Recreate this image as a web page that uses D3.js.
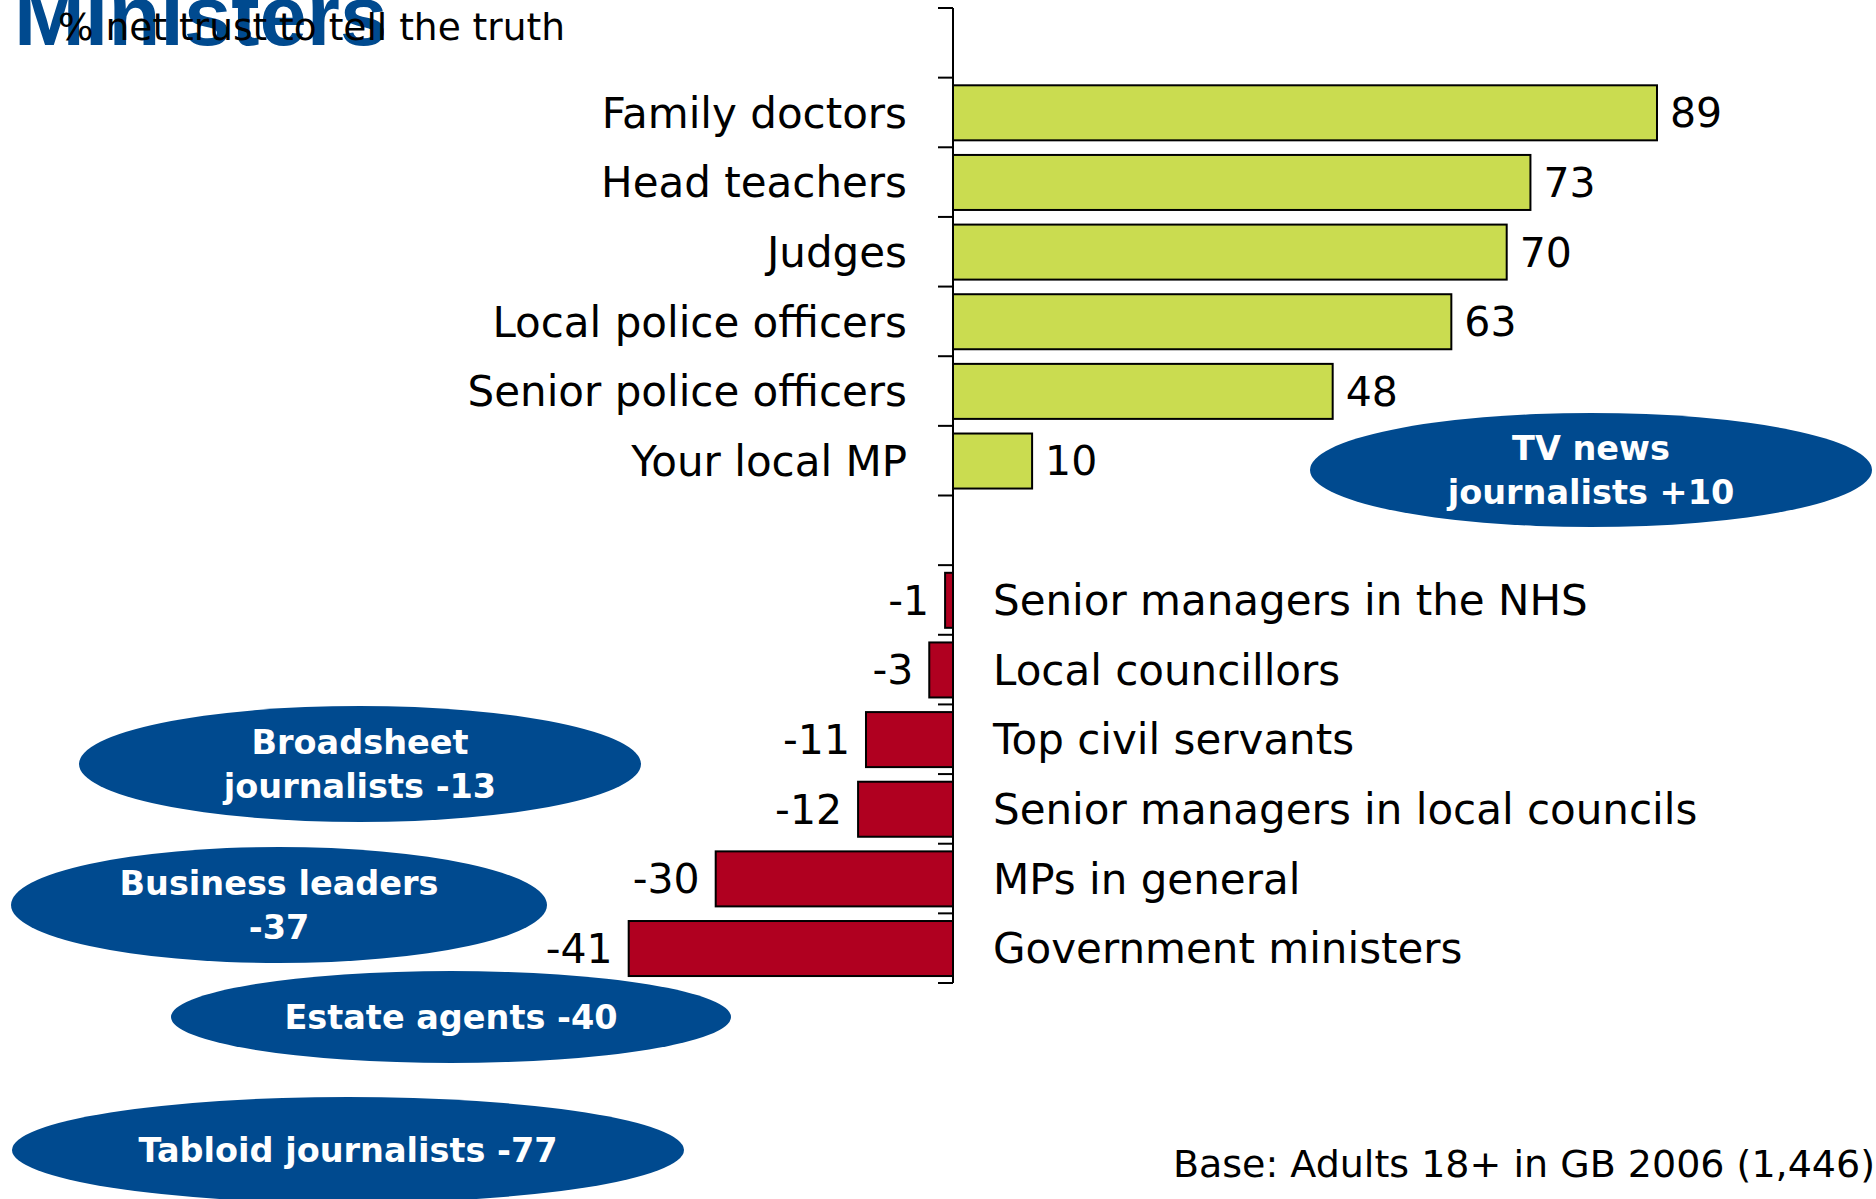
<!DOCTYPE html>
<html>
<head>
<meta charset="utf-8">
<script src="https://cdn.jsdelivr.net/npm/d3@7"></script>
<style>
  body { margin: 0; background: #fff; }
  svg { display: block; }
  text { font-family: "DejaVu Sans", Verdana, sans-serif; }
</style>
</head>
<body>
<div id="chart"></div>
<script>
/* Data
 *
 * */
var topCategories = ['Family doctors', 'Head teachers', 'Judges', 'Local police officers',
                     'Senior police officers', 'Your local MP'];
var topValues = [89, 73, 70, 63, 48, 10];

var bottomCategories = ['Senior managers in the NHS', 'Local councillors', 'Top civil servants',
                        'Senior managers in local councils', 'MPs in general', 'Government ministers'];
var bottomValues = [-1, -3, -11, -12, -30, -41];

// callout bubbles (text lines)
var calloutLabels = [
  ['TV news', 'journalists +10'],
  ['Broadsheet', 'journalists -13'],
  ['Business leaders', '-37'],
  ['Estate agents -40'],
  ['Tabloid journalists -77']
];

var titleText = 'Ministers';
var subtitleText = '% net trust to tell the truth';
var baseText = 'Base: Adults 18+ in GB 2006 (1,446)';

/* Layout
 *
 * */
var width = 1876;
var height = 1199;
var green = '#cadc50';
var red = '#b00020';
var blue = '#004a8f';

// where the bubbles sit
var calloutBoxes = [
  {cx: 1591, cy: 470,  rx: 281, ry: 57},
  {cx: 360,  cy: 764,  rx: 281, ry: 58},
  {cx: 279,  cy: 905,  rx: 268, ry: 58},
  {cx: 451,  cy: 1017, rx: 280, ry: 46},
  {cx: 348,  cy: 1150, rx: 336, ry: 53}
];

// one row per category, with an empty slot on top and one between the groups
var slots = ['_top'].concat(topCategories, ['_gap'], bottomCategories);

var rows = [];
for (var i = 0; i < topCategories.length; i++)
  rows.push({name: topCategories[i], val: topValues[i]});
for (var i = 0; i < bottomCategories.length; i++)
  rows.push({name: bottomCategories[i], val: bottomValues[i]});

var svg = d3.select('#chart')
  .append('svg')
    .attr('width', width)
    .attr('height', height);

var x = d3.scaleLinear().domain([-50, 100]).range([557.5, 1744]);
var y = d3.scaleBand().domain(slots).range([8, 983]).padding(0);
var bw = y.bandwidth();

// Title, partly off the top edge, with the subtitle over it
svg.append('text')
  .attr('x', 14)
  .attr('y', 45)
  .attr('fill', blue)
  .style('font-family', '"Liberation Sans", Arial, sans-serif')
  .style('font-weight', 'bold')
  .style('font-size', '85px')
  .text(titleText);

svg.append('text')
  .attr('x', 58)
  .attr('y', 40)
  .attr('fill', '#000')
  .style('font-size', '37.5px')
  .text(subtitleText);

// Bars
svg.append('g').classed('bars', true)
  .selectAll('rect')
  .data(rows)
  .enter().append('rect')
    .attr('x', function(d) { return x(Math.min(0, d.val)); })
    .attr('y', function(d) { return y(d.name) + bw * 0.11; })
    .attr('width', function(d) { return Math.abs(x(d.val) - x(0)); })
    .attr('height', bw * 0.79)
    .attr('fill', function(d) { return d.val >= 0 ? green : red; })
    .attr('stroke', '#000')
    .attr('stroke-width', 2);

// Axis line and ticks at the slot boundaries
var bounds = slots.map(function(d) { return y(d); }).concat([y.range()[1]]);
var axis = svg.append('g').classed('axis', true);
axis.append('line')
  .attr('x1', x(0)).attr('x2', x(0))
  .attr('y1', bounds[0]).attr('y2', bounds[bounds.length - 1])
  .attr('stroke', '#000')
  .attr('stroke-width', 2);
axis.selectAll('line.tick')
  .data(bounds)
  .enter().append('line')
    .classed('tick', true)
    .attr('x1', x(0) - 15).attr('x2', x(0))
    .attr('y1', function(d) { return d; })
    .attr('y2', function(d) { return d; })
    .attr('stroke', '#000')
    .attr('stroke-width', 2);

// Category labels: left of the axis for positive, right of it for negative
svg.append('g').classed('catLabels', true)
  .selectAll('text')
  .data(rows)
  .enter().append('text')
    .attr('x', function(d) { return d.val >= 0 ? x(0) - 46 : x(0) + 40; })
    .attr('y', function(d) { return y(d.name) + bw / 2; })
    .attr('dy', '0.36em')
    .attr('text-anchor', function(d) { return d.val >= 0 ? 'end' : 'start'; })
    .style('font-size', '42px')
    .text(function(d) { return d.name; });

// Value labels at the end of each bar
svg.append('g').classed('valLabels', true)
  .selectAll('text')
  .data(rows)
  .enter().append('text')
    .attr('x', function(d) { return d.val >= 0 ? x(d.val) + 13 : x(d.val) - 16; })
    .attr('y', function(d) { return y(d.name) + bw / 2; })
    .attr('dy', '0.36em')
    .attr('text-anchor', function(d) { return d.val >= 0 ? 'start' : 'end'; })
    .style('font-size', '41px')
    .text(function(d) { return d.val; });

// Callout bubbles
var bubbles = svg.append('g').classed('bubbles', true)
  .selectAll('g')
  .data(calloutLabels)
  .enter().append('g');

bubbles.append('ellipse')
  .attr('cx', function(d, i) { return calloutBoxes[i].cx; })
  .attr('cy', function(d, i) { return calloutBoxes[i].cy; })
  .attr('rx', function(d, i) { return calloutBoxes[i].rx; })
  .attr('ry', function(d, i) { return calloutBoxes[i].ry; })
  .attr('fill', blue);

bubbles.each(function(lines, i) {
  var box = calloutBoxes[i];
  var lineH = 44;
  var top = box.cy - (lines.length - 1) * lineH / 2;
  d3.select(this).selectAll('text')
    .data(lines)
    .enter().append('text')
      .attr('x', box.cx)
      .attr('y', function(d, j) { return top + j * lineH; })
      .attr('dy', '0.36em')
      .attr('text-anchor', 'middle')
      .attr('fill', '#fff')
      .style('font-weight', 'bold')
      .style('font-size', '33.5px')
      .text(function(d) { return d; });
});

// Base note
svg.append('text')
  .attr('x', 1875)
  .attr('y', 1177)
  .attr('text-anchor', 'end')
  .attr('fill', '#000')
  .style('font-size', '38px')
  .text(baseText);
</script>
</body>
</html>
